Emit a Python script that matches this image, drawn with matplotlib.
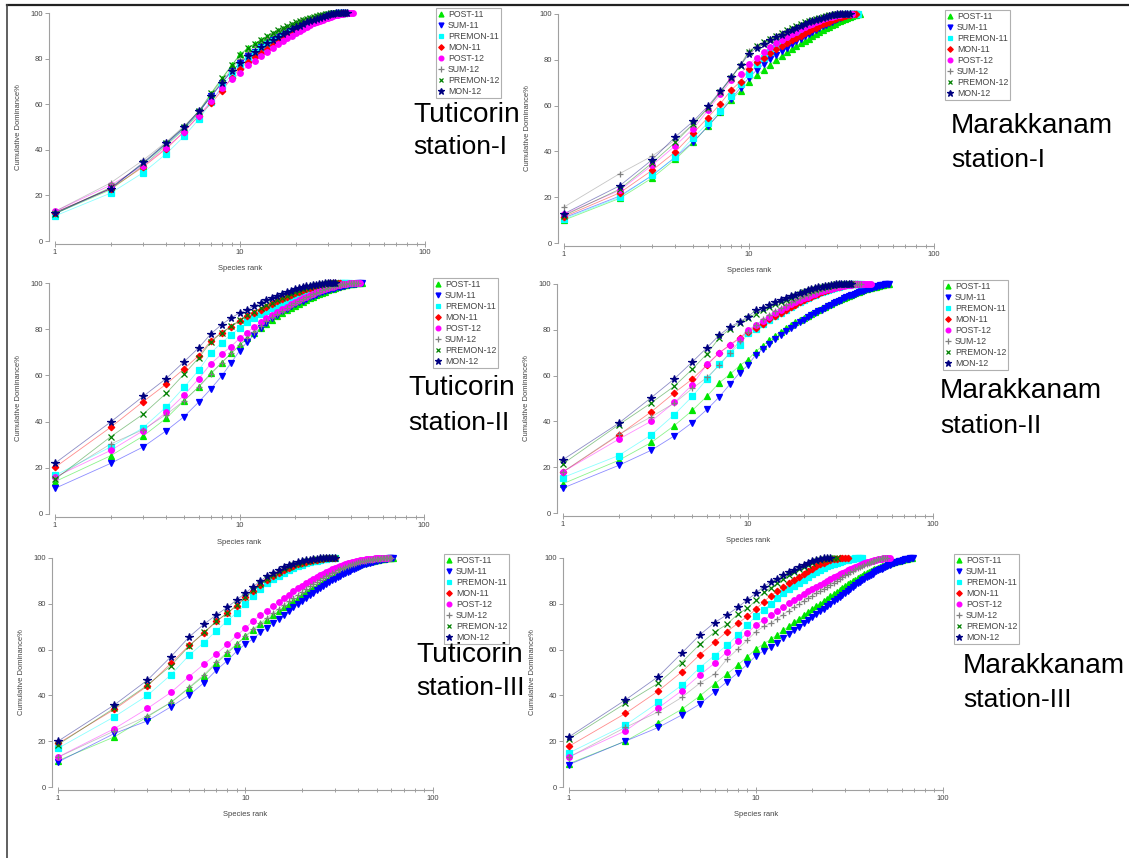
import numpy as np
import matplotlib
matplotlib.use("Agg")
import matplotlib.pyplot as plt
from matplotlib.lines import Line2D

plt.rcParams["font.family"] = ["Liberation Sans", "DejaVu Sans"]

# season labels and their marker / colour
seasons = ["POST-11", "SUM-11", "PREMON-11", "MON-11", "POST-12", "SUM-12", "PREMON-12", "MON-12"]
colors = ["#00e600", "#0000ff", "#00ffff", "#ff0000", "#ff00ff", "#808080", "#008000", "#000080"]
markers = ["^", "v", "s", "D", "o", "+", "x", "*"]
msizes = [4.2, 4.2, 3.8, 3.3, 4.0, 4.5, 4.0, 5.5]

# cumulative dominance (%) by species rank
# --- Tuticorin station-I
tut1_post11 = [12, 22.5, 33, 42, 49, 56, 64.5, 71, 77, 82, 84.5, 86.5, 88, 89.5, 91, 92, 93, 94, 94.8, 95.5,
               96.2, 96.8, 97.3, 97.8, 98.2, 98.6, 98.9, 99.2, 99.4, 99.6, 99.8, 99.9, 100, 100, 100, 100]
tut1_sum11 = [12, 23, 34, 42.5, 49.5, 56.5, 63.5, 69.5, 74.5, 78, 81, 83, 85, 86.5, 88, 89.3, 90.5, 91.6, 92.6,
              93.5, 94.3, 95, 95.7, 96.3, 96.9, 97.4, 97.9, 98.3, 98.7, 99, 99.3, 99.5, 99.7, 99.9, 100, 100, 100]
tut1_premon11 = [11, 21, 30, 38.3, 46, 53.5, 61, 68, 73, 77, 80, 82.5, 84.5, 86.3, 87.8, 89.2, 90.4, 91.5, 92.5,
                 93.4, 94.2, 95, 95.7, 96.3, 96.9, 97.4, 97.9, 98.3, 98.7, 99, 99.3, 99.5, 99.7, 99.9, 100, 100, 100]
tut1_mon11 = [12.5, 23, 32.5, 40.5, 48, 55, 60.5, 66, 71.5, 75.5, 78.5, 80.5, 82.5, 84.3, 85.9, 87.3, 88.6, 89.8,
              90.9, 91.9, 92.8, 93.7, 94.5, 95.2, 95.9, 96.5, 97, 97.5, 98, 98.4, 98.8, 99.1, 99.4, 99.6, 99.8,
              99.9, 100, 100]
tut1_post12 = [13, 24.5, 33, 41, 48, 55, 61.5, 67, 71, 73.5, 77, 79, 81, 83, 84.7, 86.2, 87.6, 88.9, 90.1, 91.2,
               92.2, 93.1, 93.9, 94.7, 95.4, 96, 96.6, 97.1, 97.6, 98, 98.4, 98.7, 99, 99.3, 99.5, 99.7, 99.8,
               99.9, 100, 100, 100]
tut1_sum12 = [13, 25.5, 35.5, 43.5, 50.5, 57, 64, 70, 75.5, 80, 83, 85.5, 87.5, 89.2, 90.6, 91.9, 93, 94, 94.9,
              95.7, 96.4, 97, 97.5, 98, 98.4, 98.8, 99.1, 99.4, 99.6, 99.8, 99.9, 100, 100, 100, 100]
tut1_premon12 = [12, 23.5, 34, 43, 50, 57, 65, 71.5, 77, 81.5, 84.5, 86.5, 88.3, 89.9, 91.3, 92.5, 93.5, 94.4,
                 95.2, 95.9, 96.5, 97, 97.5, 97.9, 98.3, 98.7, 99, 99.3, 99.5, 99.7, 99.8, 99.9, 100, 100, 100, 100]
tut1_mon12 = [12.5, 23, 34.5, 43, 50, 57, 63.5, 69.5, 74.5, 78, 81, 83, 85, 86.7, 88.2, 89.5, 90.7, 91.8, 92.8,
              93.7, 94.5, 95.2, 95.9, 96.5, 97, 97.5, 98, 98.4, 98.8, 99.1, 99.4, 99.6, 99.8, 99.9, 100, 100, 100, 100]

# --- Marakkanam station-I
mar1_post11 = [10, 19.5, 28.4, 36.6, 44, 51, 57, 62.5, 66.5, 70.5, 73.3, 75.5, 77.8, 79.8, 81.6, 83.2, 84.7, 86,
               87.2, 88.3, 89.3, 90.3, 91.2, 92.1, 92.9, 93.7, 94.4, 95.1, 95.7, 96.3, 96.9, 97.4, 97.9, 98.3,
               98.7, 99.1, 99.4, 99.7, 100, 100]
mar1_sum11 = [11, 20.5, 29.5, 37.5, 44.2, 51, 57, 62.8, 67.9, 72.2, 75.5, 78, 80.2, 82.1, 83.8, 85.3, 86.7, 88,
              89.2, 90.3, 91.3, 92.2, 93.1, 93.9, 94.7, 95.4, 96.1, 96.7, 97.3, 97.8, 98.3, 98.7, 99.1, 99.4,
              99.7, 99.9, 100, 100]
mar1_premon11 = [10.5, 20, 29.6, 37.6, 46, 52.5, 57.7, 64, 69.5, 74, 78, 81, 83.5, 85.5, 87.2, 88.7, 90, 91.2,
                 92.3, 93.3, 94.2, 95, 95.7, 96.4, 97, 97.5, 98, 98.4, 98.8, 99.1, 99.4, 99.6, 99.8, 99.9, 100,
                 100, 100, 100, 100]
mar1_mon11 = [11.5, 21.9, 31.8, 39.8, 48, 54.8, 60.8, 66.8, 70.5, 76, 79, 81, 83, 84.6, 86, 87.3, 88.5, 89.6,
              90.6, 91.6, 92.5, 93.3, 94.1, 94.8, 95.5, 96.1, 96.7, 97.2, 97.7, 98.1, 98.5, 98.9, 99.2, 99.5,
              99.7, 99.9, 100, 100]
mar1_post12 = [12.5, 23, 34, 42.5, 50, 58, 65, 71, 74, 78, 81, 83.5, 85.5, 87.2, 88.7, 90, 91.2, 92.3, 93.3,
               94.2, 95, 95.8, 96.5, 97.1, 97.6, 98.1, 98.5, 98.9, 99.2, 99.5, 99.7, 99.9, 100, 100, 100, 100]
mar1_sum12 = [15.7, 30.3, 38, 45, 52, 59, 66, 72, 78, 84, 86, 87.5, 89, 90.3, 91.5, 92.6, 93.6, 94.5, 95.3, 96,
              96.7, 97.3, 97.8, 98.3, 98.7, 99.1, 99.4, 99.7, 99.9, 100, 100, 100, 100, 100]
mar1_premon12 = [12, 23.5, 35, 44, 52, 59, 66, 72, 77.5, 83.5, 86, 87.8, 89.3, 90.6, 91.8, 92.9, 93.9, 94.8,
                 95.6, 96.3, 96.9, 97.5, 98, 98.4, 98.8, 99.1, 99.4, 99.6, 99.8, 99.9, 100, 100, 100, 100]
mar1_mon12 = [12.8, 25, 36.4, 46.4, 53.2, 59.8, 66.3, 72.3, 77.7, 82.5, 85.3, 87, 88.5, 89.8, 91, 92.1, 93.1, 94,
              94.8, 95.6, 96.3, 96.9, 97.5, 98, 98.4, 98.8, 99.1, 99.4, 99.6, 99.8, 99.9, 100, 100, 100, 100]

# --- Tuticorin station-II
tut2_post11 = [14, 25.2, 33.7, 41.4, 49, 55, 61, 65.5, 69.5, 73, 76, 78.5, 80.5, 82.3, 84, 85.5, 86.9, 88.1,
               89.2, 90.2, 91.1, 91.9, 92.7, 93.4, 94.1, 94.7, 95.3, 95.8, 96.3, 96.8, 97.2, 97.6, 97.9, 98.2,
               98.5, 98.8, 99, 99.2, 99.4, 99.6, 99.7, 99.8, 99.9, 100, 100, 100]
tut2_sum11 = [11.1, 21.9, 29, 36, 42.1, 48.4, 54.2, 59.7, 65.4, 70.6, 74.5, 77.5, 80.5, 82.8, 84.7, 86.3, 87.7,
              88.9, 89.9, 90.8, 91.6, 92.4, 93.1, 93.8, 94.4, 95, 95.5, 96, 96.4, 96.8, 97.2, 97.5, 97.8, 98.1,
              98.4, 98.6, 98.8, 99, 99.2, 99.4, 99.5, 99.6, 99.7, 99.8, 99.9, 100]
tut2_premon11 = [16.7, 29, 37.3, 46.3, 54.8, 62.2, 69.7, 74.2, 77.5, 80.5, 83, 85, 86.5, 87.8, 89, 90.1, 91.1,
                 92, 92.9, 93.7, 94.4, 95.1, 95.7, 96.3, 96.8, 97.3, 97.7, 98.1, 98.5, 98.8, 99.1, 99.3, 99.5,
                 99.7, 99.8, 99.9, 100, 100, 100]
tut2_mon11 = [20.2, 37.5, 48.6, 56.2, 62.8, 68.5, 75, 78.5, 81, 83.5, 85.5, 87, 88.5, 89.8, 91, 92.1, 93.1, 94,
              94.8, 95.5, 96.2, 96.8, 97.3, 97.8, 98.2, 98.6, 98.9, 99.2, 99.4, 99.6, 99.8, 99.9, 100, 100, 100]
tut2_post12 = [16, 27.5, 36, 44, 51.4, 58.5, 65.1, 69.2, 72.5, 76, 78.5, 81, 83, 84.7, 86.2, 87.5, 88.7, 89.8,
               90.8, 91.7, 92.5, 93.3, 94, 94.7, 95.3, 95.9, 96.4, 96.9, 97.3, 97.7, 98.1, 98.4, 98.7, 99, 99.2,
               99.4, 99.6, 99.7, 99.8, 99.9, 100, 100, 100, 100, 100]
tut2_sum12 = [15.5, 30.3, 36.5, 43, 49, 55, 60.5, 65.5, 69.5, 73, 76.3, 79, 81.5, 83.5, 85.2, 86.7, 88, 89.2,
              90.3, 91.3, 92.2, 93, 93.8, 94.5, 95.2, 95.8, 96.3, 96.8, 97.3, 97.7, 98.1, 98.4, 98.7, 99, 99.2,
              99.4, 99.6, 99.7, 99.8, 99.9, 100, 100, 100, 100]
tut2_premon12 = [15, 33.4, 43.2, 52.2, 60.5, 67.5, 74.5, 78.5, 81.3, 83.8, 86, 87.6, 89, 90.3, 91.5, 92.6, 93.6,
                 94.5, 95.3, 96, 96.7, 97.3, 97.8, 98.3, 98.7, 99, 99.3, 99.5, 99.7, 99.9, 100, 100, 100]
tut2_mon12 = [22, 39.8, 50.9, 58.6, 65.9, 71.9, 78, 82, 84.9, 87, 88.5, 90, 91.5, 92.6, 93.6, 94.5, 95.3, 96,
              96.6, 97.2, 97.7, 98.1, 98.5, 98.8, 99.1, 99.3, 99.5, 99.7, 99.8, 99.9, 100, 100, 100]

# --- Marakkanam station-II
mar2_post11 = [12.8, 23, 30.8, 38.2, 44.8, 51, 56.9, 60.6, 64.3, 67, 70.5, 73, 75.5, 77.5, 79.2, 80.7, 82, 83.2,
               84.3, 85.3, 86.2, 87.1, 87.9, 88.7, 89.4, 90.1, 90.8, 91.4, 92, 92.6, 93.1, 93.6, 94.1, 94.5,
               94.9, 95.3, 95.7, 96.1, 96.4, 96.7, 97, 97.3, 97.6, 97.9, 98.1, 98.3, 98.5, 98.7, 98.9, 99.1,
               99.3, 99.4, 99.6, 99.7, 99.8, 99.9, 100, 100]
mar2_sum11 = [10.9, 20.8, 27.4, 33.7, 39.5, 45.2, 50.7, 56.3, 61.2, 64.6, 69, 71.5, 74, 76, 77.8, 79.4, 80.8,
              82.1, 83.3, 84.4, 85.4, 86.3, 87.2, 88, 88.8, 89.5, 90.2, 90.9, 91.5, 92.1, 92.7, 93.2, 93.7, 94.2,
              94.6, 95, 95.4, 95.8, 96.2, 96.5, 96.8, 97.1, 97.4, 97.7, 98, 98.2, 98.4, 98.6, 98.8, 99, 99.2,
              99.4, 99.5, 99.7, 99.8, 99.9, 100, 100]
mar2_premon11 = [15.5, 25.1, 34.1, 43, 50.9, 58.5, 65, 70, 73.3, 78.5, 80.5, 82.5, 84.3, 86, 87.5, 88.8, 90,
                 91.1, 92.1, 93, 93.8, 94.6, 95.3, 95.9, 96.5, 97, 97.5, 97.9, 98.3, 98.6, 98.9, 99.2, 99.4,
                 99.6, 99.7, 99.8, 99.9, 100, 100, 100, 100]
mar2_mon11 = [17.9, 34, 44.2, 52.5, 58.5, 64.6, 70, 73.5, 76.5, 79, 81, 82.5, 84.5, 86, 87.4, 88.7, 89.9, 91, 92,
              92.9, 93.7, 94.5, 95.2, 95.8, 96.4, 96.9, 97.4, 97.8, 98.2, 98.6, 98.9, 99.2, 99.4, 99.6, 99.8,
              99.9, 100, 100, 100]
mar2_post12 = [18, 32.2, 40.1, 48.3, 56, 65, 70, 73.2, 76.2, 80, 82, 84, 85.8, 87.4, 88.8, 90, 91.1, 92.1, 93,
               93.8, 94.5, 95.2, 95.8, 96.3, 96.8, 97.2, 97.6, 98, 98.3, 98.6, 98.9, 99.1, 99.3, 99.5, 99.6, 99.7,
               99.8, 99.9, 100, 100, 100, 100, 100, 100, 100, 100]
mar2_sum12 = [18, 34.3, 42, 48, 54.4, 59.2, 64.5, 70, 75, 79, 82, 84.5, 86.5, 88.2, 89.6, 90.9, 92, 93, 93.9,
              94.7, 95.4, 96, 96.6, 97.1, 97.6, 98, 98.4, 98.7, 99, 99.2, 99.4, 99.6, 99.7, 99.8, 99.9, 100, 100,
              100, 100, 100, 100]
mar2_premon12 = [21.5, 38.5, 48.1, 55.4, 62.8, 69.5, 76.5, 80.5, 83, 85.2, 87, 88.5, 89.9, 91.1, 92.2, 93.2,
                 94.1, 94.9, 95.6, 96.3, 96.9, 97.4, 97.9, 98.3, 98.7, 99, 99.3, 99.5, 99.7, 99.9, 100, 100, 100,
                 100, 100, 100]
mar2_mon12 = [23.3, 39.2, 50.4, 58.6, 66, 72.2, 77.7, 81.3, 83.5, 85.7, 88.6, 89.5, 91, 92, 93, 93.9, 94.7, 95.4,
              96.1, 96.7, 97.2, 97.7, 98.1, 98.5, 98.8, 99.1, 99.3, 99.5, 99.7, 99.8, 99.9, 100, 100, 100, 100, 100]

# --- Tuticorin station-III
tut3_post11 = [11.5, 21.9, 30.7, 36.9, 43.2, 48.5, 54, 58.4, 62.3, 65.8, 68.5, 71, 73, 75, 76.8, 78.5, 80, 81.4,
               82.7, 83.9, 85, 86, 87, 87.9, 88.8, 89.6, 90.4, 91.1, 91.8, 92.4, 93, 93.6, 94.1, 94.6, 95.1, 95.5,
               95.9, 96.3, 96.7, 97, 97.3, 97.6, 97.9, 98.1, 98.3, 98.5, 98.7, 98.9, 99.1, 99.2, 99.3, 99.4, 99.5,
               99.6, 99.7, 99.8, 99.85, 99.9, 99.95, 100, 100]
tut3_sum11 = [10.9, 23.4, 28.9, 35, 40.1, 45.5, 51.1, 55.2, 59.4, 62.5, 64.7, 67.5, 69.5, 71.5, 73.4, 75.2, 76.9,
              78.5, 80, 81.3, 82.6, 83.8, 84.9, 85.9, 86.9, 87.8, 88.7, 89.5, 90.3, 91, 91.7, 92.3, 92.9, 93.5,
              94, 94.5, 95, 95.4, 95.8, 96.2, 96.6, 96.9, 97.2, 97.5, 97.8, 98, 98.2, 98.4, 98.6, 98.8, 99,
              99.2, 99.3, 99.4, 99.5, 99.6, 99.7, 99.8, 99.9, 100, 100]
tut3_premon11 = [16.9, 30.7, 40, 49, 57.5, 63.1, 68.2, 72.6, 76.2, 79.7, 83.5, 86.5, 89, 90.8, 92.3, 93.6, 94.7,
                 95.6, 96.4, 97.1, 97.7, 98.2, 98.6, 98.9, 99.2, 99.4, 99.6, 99.8, 99.9, 100]
tut3_mon11 = [19, 33.9, 44.1, 54, 61.8, 67.2, 72.3, 75.9, 79.1, 82.8, 85.5, 88, 90.5, 92.1, 93.5, 94.7, 95.7,
              96.5, 97.2, 97.8, 98.3, 98.7, 99, 99.3, 99.5, 99.7, 99.8, 99.9, 100, 100]
tut3_post12 = [13.1, 25.5, 34.3, 41.3, 48.2, 53.6, 58.1, 62.3, 66.3, 69.3, 72.7, 75, 77, 79, 80.8, 82.5, 84,
               85.4, 86.7, 87.9, 89, 90, 90.9, 91.7, 92.5, 93.2, 93.9, 94.5, 95.1, 95.6, 96.1, 96.5, 96.9, 97.3,
               97.6, 97.9, 98.2, 98.4, 98.6, 98.8, 99, 99.15, 99.3, 99.4, 99.5, 99.6, 99.7, 99.75, 99.8, 99.85,
               99.9, 99.93, 99.96, 100, 100, 100, 100, 100]
tut3_sum12 = [13, 24.5, 31, 37, 43.5, 49, 54.5, 59, 62.5, 66, 69, 71.5, 73.8, 75.9, 77.8, 79.5, 81.1, 82.6, 84,
              85.3, 86.5, 87.6, 88.6, 89.5, 90.4, 91.2, 92, 92.7, 93.4, 94, 94.6, 95.1, 95.6, 96, 96.4, 96.8,
              97.2, 97.5, 97.8, 98.1, 98.3, 98.5, 98.7, 98.9, 99.1, 99.2, 99.3, 99.4, 99.5, 99.6, 99.7, 99.75,
              99.8, 99.85, 99.9, 99.93, 99.96, 100, 100, 100]
tut3_premon12 = [18.5, 34.5, 44.5, 53, 61.5, 67.5, 72.5, 76, 79.5, 83, 86, 88.5, 90.8, 92.4, 93.8, 95, 96, 96.8,
                 97.5, 98, 98.5, 98.9, 99.2, 99.4, 99.6, 99.8, 99.9, 100, 100, 100]
tut3_mon12 = [20, 35.9, 46.7, 56.9, 65.5, 71.1, 75.2, 78.5, 81.8, 84.7, 87.5, 90, 92, 93.5, 94.8, 95.9, 96.8,
              97.5, 98.1, 98.6, 99, 99.3, 99.5, 99.7, 99.8, 99.9, 100, 100, 100, 100]

# --- Marakkanam station-III
mar3_post11 = [10.2, 20, 28, 33.9, 39.7, 45, 49.3, 53.3, 56.9, 60.3, 62.5, 64.5, 66.5, 68.4, 70.2, 71.9, 73.5,
               75, 76.4, 77.7, 78.9, 80.1, 81.2, 82.3, 83.3, 84.3, 85.2, 86.1, 86.9, 87.7, 88.5, 89.2, 89.9, 90.5,
               91.1, 91.7, 92.3, 92.8, 93.3, 93.8, 94.2, 94.6, 95, 95.4, 95.8, 96.1, 96.4, 96.7, 97, 97.3, 97.5,
               97.7, 97.9, 98.1, 98.3, 98.5, 98.7, 98.9, 99.1, 99.3, 99.4, 99.5, 99.6, 99.7, 99.8, 99.9, 100, 100]
mar3_sum11 = [9.8, 20, 26, 31.4, 36.2, 41.5, 46, 49.9, 53.6, 57.4, 59.4, 61, 63, 64.9, 66.7, 68.4, 70, 71.5, 72.9,
              74.2, 75.5, 76.7, 77.9, 79, 80.1, 81.1, 82.1, 83.1, 84, 84.9, 85.8, 86.6, 87.4, 88.2, 88.9, 89.6,
              90.3, 90.9, 91.5, 92.1, 92.7, 93.2, 93.7, 94.2, 94.6, 95, 95.4, 95.8, 96.2, 96.5, 96.8, 97.1, 97.4,
              97.7, 97.9, 98.1, 98.3, 98.5, 98.7, 98.9, 99.1, 99.3, 99.4, 99.5, 99.6, 99.7, 99.8, 99.9, 100]
mar3_premon11 = [14.9, 27, 36.9, 44.4, 52.1, 57.4, 62, 66.4, 70.8, 74.7, 77.5, 80, 82.5, 84.5, 86.3, 87.9, 89.3,
                 90.6, 91.8, 92.9, 93.9, 94.8, 95.6, 96.3, 96.9, 97.4, 97.9, 98.3, 98.7, 99, 99.3, 99.5, 99.7,
                 99.8, 99.9, 100, 100]
mar3_mon11 = [17.8, 32.1, 41.9, 50.2, 57.7, 63.2, 67.9, 71.5, 74.5, 77.7, 80.9, 83.5, 85.5, 87.3, 88.9, 90.4,
              91.8, 93.1, 94.3, 95.4, 96.4, 97.2, 97.9, 98.5, 99, 99.4, 99.7, 99.9, 100, 100, 100]
mar3_post12 = [13.1, 24.5, 34.5, 42, 48.9, 54, 59.1, 63.8, 67.2, 70.8, 73, 75, 77, 78.8, 80.4, 81.8, 83.1, 84.3,
               85.4, 86.4, 87.4, 88.3, 89.2, 90, 90.8, 91.5, 92.2, 92.9, 93.5, 94.1, 94.7, 95.2, 95.7, 96.2,
               96.6, 97, 97.4, 97.8, 98.1, 98.4, 98.7, 98.9, 99.1, 99.3, 99.5, 99.6, 99.7, 99.8, 99.9, 100, 100, 100]
mar3_sum12 = [13.1, 26, 32.8, 39.1, 45.3, 49.3, 55.9, 60.3, 64.2, 67.9, 70.1, 71.5, 73.5, 75.3, 77, 78.5, 79.9,
              81.2, 82.4, 83.5, 84.6, 85.6, 86.6, 87.5, 88.4, 89.3, 90.1, 90.9, 91.7, 92.4, 93.1, 93.8, 94.4, 95,
              95.6, 96.1, 96.6, 97.1, 97.5, 97.9, 98.3, 98.6, 98.9, 99.2, 99.4, 99.6, 99.8, 99.9, 100, 100]
mar3_premon12 = [21, 36.5, 45.3, 54.3, 62.3, 67.6, 71.1, 75.5, 78.1, 81.5, 85, 87, 89, 90.8, 92.4, 93.8, 95,
                 96.1, 97, 97.8, 98.5, 99, 99.4, 99.7, 99.9, 100, 100]
mar3_mon12 = [21.9, 38, 48.2, 58.4, 66.4, 71.8, 75.2, 78.5, 81.8, 84.7, 87.5, 89.5, 91, 92.4, 93.7, 94.9, 96, 97,
              97.9, 98.7, 99.3, 99.7, 100, 100, 100]

panels = [
    ("Tuticorin", "station-I", [tut1_post11, tut1_sum11, tut1_premon11, tut1_mon11,
                                tut1_post12, tut1_sum12, tut1_premon12, tut1_mon12]),
    ("Marakkanam", "station-I", [mar1_post11, mar1_sum11, mar1_premon11, mar1_mon11,
                                 mar1_post12, mar1_sum12, mar1_premon12, mar1_mon12]),
    ("Tuticorin", "station-II", [tut2_post11, tut2_sum11, tut2_premon11, tut2_mon11,
                                 tut2_post12, tut2_sum12, tut2_premon12, tut2_mon12]),
    ("Marakkanam", "station-II", [mar2_post11, mar2_sum11, mar2_premon11, mar2_mon11,
                                  mar2_post12, mar2_sum12, mar2_premon12, mar2_mon12]),
    ("Tuticorin", "station-III", [tut3_post11, tut3_sum11, tut3_premon11, tut3_mon11,
                                  tut3_post12, tut3_sum12, tut3_premon12, tut3_mon12]),
    ("Marakkanam", "station-III", [mar3_post11, mar3_sum11, mar3_premon11, mar3_mon11,
                                   mar3_post12, mar3_sum12, mar3_premon12, mar3_mon12]),
]

# pixel layout of each panel: x of rank 1, x of rank 100, y of 100 %, y of 0 %
W, H = 1129, 858
axes_px = [(55, 425, 13, 241), (564, 934, 14, 243),
           (55, 424, 283, 514), (563, 933, 284, 513),
           (58, 433, 558, 787), (569, 943, 558, 787)]
legend_px = [(436, 8), (945, 10), (433, 278), (943, 280), (444, 554), (954, 554)]
label_px = [(413, 122, 154), (951, 133, 167), (408, 395, 430),
            (940, 398, 433), (416, 662, 695), (963, 673, 707)]

fig = plt.figure(figsize=(W / 100, H / 100), dpi=100)

for i, (site, station, series) in enumerate(panels):
    x1, x100, ytop, ybot = axes_px[i]
    ax = fig.add_axes([x1 / W, 1 - ybot / H, (x100 - x1) / W, (ybot - ytop) / H])

    for vals, name, c, m, ms in zip(series, seasons, colors, markers, msizes):
        rank = np.arange(1, len(vals) + 1)
        ax.plot(rank, vals, color=c, lw=0.6, alpha=0.45, clip_on=False, zorder=2)
        ax.plot(rank, vals, linestyle="none", marker=m, color=c, ms=ms, mew=0.9,
                clip_on=False, zorder=3, label=name)

    ax.set_xscale("log")
    ax.set_xlim(1, 100)
    ax.set_ylim(0, 100)
    ax.set_yticks([0, 20, 40, 60, 80, 100])
    ax.set_xticks([1, 10, 100])
    ax.set_xticklabels(["1", "10", "100"])
    ax.patch.set_visible(False)

    for side in ["top", "right"]:
        ax.spines[side].set_visible(False)
    ax.spines["left"].set_position(("outward", 4))
    ax.spines["bottom"].set_position(("outward", 2.5))
    for side in ["left", "bottom"]:
        ax.spines[side].set_color("#a0a0a0")
        ax.spines[side].set_linewidth(0.8)

    ax.tick_params(axis="both", which="both", colors="#a0a0a0", labelcolor="#444444",
                   labelsize=5.5, width=0.7)
    ax.tick_params(axis="y", length=3, pad=1.5)
    ax.tick_params(axis="x", which="major", direction="inout", length=4, pad=1)
    ax.tick_params(axis="x", which="minor", direction="inout", length=2.5)

    ax.set_xlabel("Species rank", fontsize=5.5, color="#444444")
    ax.set_ylabel("Cumulative Dominance%", fontsize=5.5, color="#444444")
    ax.xaxis.set_label_coords(0.5, -24.5 / (ybot - ytop))
    ax.yaxis.set_label_coords(-33 / (x100 - x1), 0.5)

    lx, ly = legend_px[i]
    leg = ax.legend(loc="upper left", bbox_to_anchor=(lx / W, 1 - ly / H),
                    bbox_transform=fig.transFigure, borderaxespad=0,
                    fontsize=6.3, frameon=True, fancybox=False, framealpha=1,
                    edgecolor="#b0b0b0", handlelength=0.6, handletextpad=0.5,
                    labelspacing=0.22, borderpad=0.25, markerscale=0.85)
    leg.get_frame().set_linewidth(0.8)
    for t in leg.get_texts():
        t.set_color("#444444")

    tx, b1, b2 = label_px[i]
    fig.text(tx / W, 1 - b1 / H, site, fontsize=20.2, va="baseline", ha="left")
    fig.text(tx / W, 1 - b2 / H, station, fontsize=19, va="baseline", ha="left")

# outer frame lines (top and left) of the original figure
fig.add_artist(Line2D([6.5 / W, 1], [1 - 4.5 / H, 1 - 4.5 / H], color="#222222", lw=1.6))
fig.add_artist(Line2D([6.5 / W, 6.5 / W], [0, 1 - 4.5 / H], color="#444444", lw=1.2))

fig.savefig("out.png", dpi=100)
